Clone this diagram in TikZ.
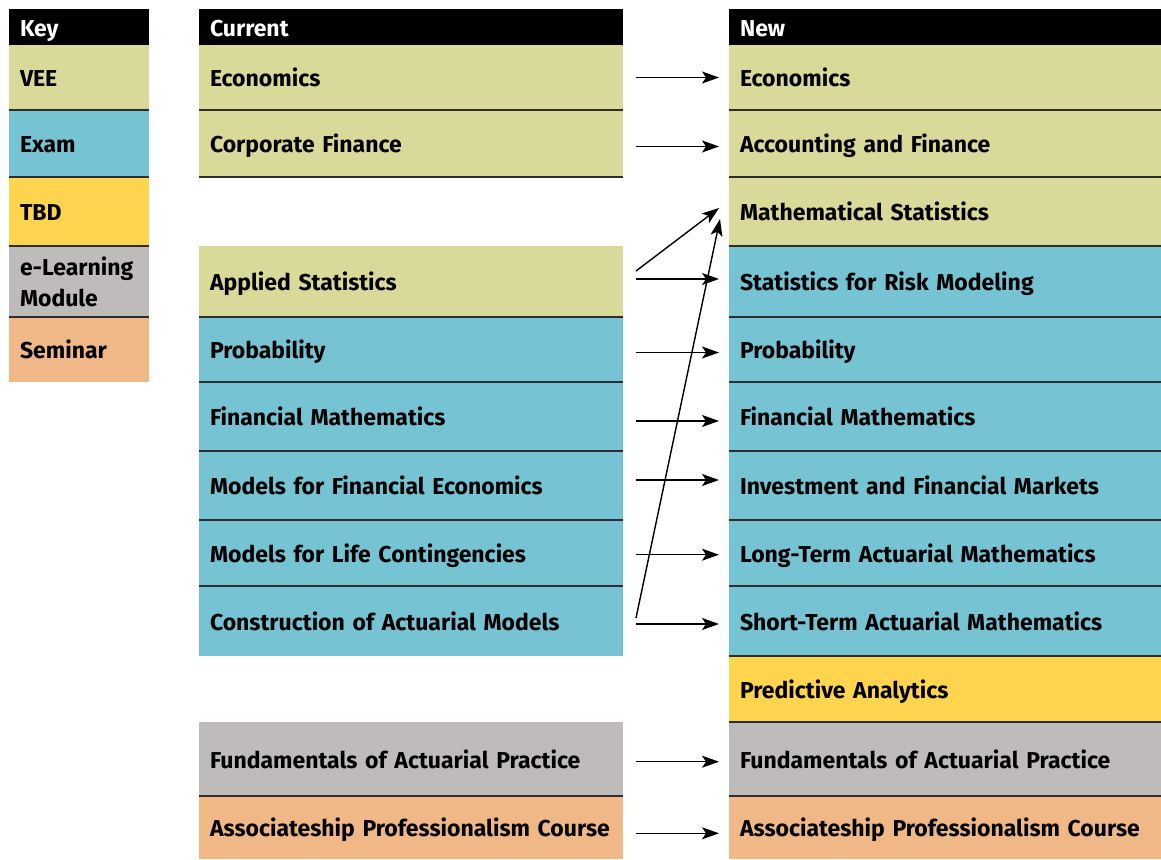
\documentclass[tikz,border=0pt]{standalone}
\usepackage{fontspec}
\setmainfont{Fira Sans}
\usetikzlibrary{arrows.meta}
\definecolor{vee}{RGB}{217,217,153}
\definecolor{exam}{RGB}{117,195,211}
\definecolor{tbd}{RGB}{255,213,80}
\definecolor{elm}{RGB}{191,187,186}
\definecolor{sem}{RGB}{239,184,134}
\definecolor{sep}{RGB}{45,45,45}
\tikzset{
  cell/.style={rectangle, anchor=north west, inner xsep=11pt, inner ysep=0pt, outer sep=0pt,
    align=left, font=\bfseries\fontsize{23}{31}\selectfont},
  oneline/.style={text height=20pt, text depth=1.5pt},
  keycell/.style={cell, text width=118pt},
  curcell/.style={cell, oneline, text width=402pt},
  newcell/.style={cell, oneline, text width=410pt},
  head/.style={fill=black, text=white, minimum height=36pt},
  sepline/.style={draw=sep, line width=1.4pt},
  arr/.style={line width=1.4pt, -{Stealth[length=17pt,width=12pt,inset=4pt]}}
}
\begin{document}
\begin{tikzpicture}[x=1pt,y=-1pt]
\useasboundingbox (0,0) rectangle (1161,859);
% Key column
\node[keycell, oneline, head] (kH) at (9,9) {Key};
\node[keycell, oneline, fill=vee, minimum height=65pt] (kV) at (9,45) {VEE};
\node[keycell, oneline, fill=exam, minimum height=67pt] (kE) at (9,110) {Exam};
\node[keycell, oneline, fill=tbd, minimum height=69pt] (kT) at (9,177) {TBD};
\node[keycell, fill=elm, minimum height=71pt] (kL) at (9,246) {e-Learning\\Module};
\node[keycell, oneline, fill=sem, minimum height=65pt] (kS) at (9,317) {Seminar};
% Current column
\node[curcell, head] (cH) at (199,9) {Current};
\node[curcell, fill=vee, minimum height=65pt] (cEcon) at (199,45) {Economics};
\node[curcell, fill=vee, minimum height=67pt] (cCorp) at (199,110) {Corporate Finance};
\node[curcell, fill=vee, minimum height=71pt] (cApp) at (199,246) {Applied Statistics};
\node[curcell, fill=exam, minimum height=65pt] (cProb) at (199,317) {Probability};
\node[curcell, fill=exam, minimum height=69pt] (cFin) at (199,382) {Financial Mathematics};
\node[curcell, fill=exam, minimum height=69pt] (cMFE) at (199,451) {Models for Financial Economics};
\node[curcell, fill=exam, minimum height=66pt] (cMLC) at (199,520) {Models for Life Contingencies};
\node[curcell, fill=exam, minimum height=70pt] (cCAM) at (199,586) {Construction of Actuarial Models};
\node[curcell, fill=elm, minimum height=74pt] (cFAP) at (199,722) {Fundamentals of Actuarial Practice};
\node[curcell, fill=sem, minimum height=63pt] (cAPC) at (199,796) {Associateship Professionalism Course};
% New column
\node[newcell, head] (nH) at (729,9) {New};
\node[newcell, fill=vee, minimum height=65pt] (nEcon) at (729,45) {Economics};
\node[newcell, fill=vee, minimum height=67pt] (nAcc) at (729,110) {Accounting and Finance};
\node[newcell, fill=vee, minimum height=69pt] (nMS) at (729,177) {Mathematical Statistics};
\node[newcell, fill=exam, minimum height=71pt] (nSRM) at (729,246) {Statistics for Risk Modeling};
\node[newcell, fill=exam, minimum height=65pt] (nProb) at (729,317) {Probability};
\node[newcell, fill=exam, minimum height=69pt] (nFin) at (729,382) {Financial Mathematics};
\node[newcell, fill=exam, minimum height=69pt] (nIFM) at (729,451) {Investment and Financial Markets};
\node[newcell, fill=exam, minimum height=66pt] (nLTAM) at (729,520) {Long-Term Actuarial Mathematics};
\node[newcell, fill=exam, minimum height=70pt] (nSTAM) at (729,586) {Short-Term Actuarial Mathematics};
\node[newcell, fill=tbd, minimum height=66pt] (nPA) at (729,656) {Predictive Analytics};
\node[newcell, fill=elm, minimum height=74pt] (nFAP) at (729,722) {Fundamentals of Actuarial Practice};
\node[newcell, fill=sem, minimum height=63pt] (nAPC) at (729,796) {Associateship Professionalism Course};
% separator lines
\foreach \y in {110,177,246,317} \draw[sepline] (9,\y) -- (149,\y);
\foreach \y in {110,177,317,382,451,520,586,796} \draw[sepline] (199,\y) -- (623,\y);
\foreach \y in {110,177,246,317,382,451,520,586,656,722,796} \draw[sepline] (729,\y) -- (1161,\y);
% arrows
\draw[arr] ([shift={(13,0)}]cEcon.east) -- ([shift={(-10,0)}]nEcon.west);
\draw[arr] ([shift={(13,3)}]cCorp.east) -- ([shift={(-10,3)}]nAcc.west);
\draw[arr] ([shift={(13,-10.5)}]cApp.east) -- ([shift={(-10,-3.5)}]nMS.west);
\draw[arr] ([shift={(13,-2.5)}]cApp.east) -- ([shift={(-10,-2.5)}]nSRM.west);
\draw[arr] ([shift={(13,3)}]cProb.east) -- ([shift={(-10,3)}]nProb.west);
\draw[arr] ([shift={(13,4.5)}]cFin.east) -- ([shift={(-10,4.5)}]nFin.west);
\draw[arr] ([shift={(13,-5.5)}]cMFE.east) -- ([shift={(-10,-5.5)}]nIFM.west);
\draw[arr] ([shift={(13,1.7)}]cMLC.east) -- ([shift={(-10,1.7)}]nLTAM.west);
\draw[arr] ([shift={(13,-3)}]cCAM.east) -- ([shift={(-9,7.5)}]nMS.west);
\draw[arr] ([shift={(13,3)}]cCAM.east) -- ([shift={(-10,3)}]nSTAM.west);
\draw[arr] ([shift={(13,2.7)}]cFAP.east) -- ([shift={(-10,2.7)}]nFAP.west);
\draw[arr] ([shift={(13,5.8)}]cAPC.east) -- ([shift={(-10,5.8)}]nAPC.west);
\end{tikzpicture}
\end{document}
